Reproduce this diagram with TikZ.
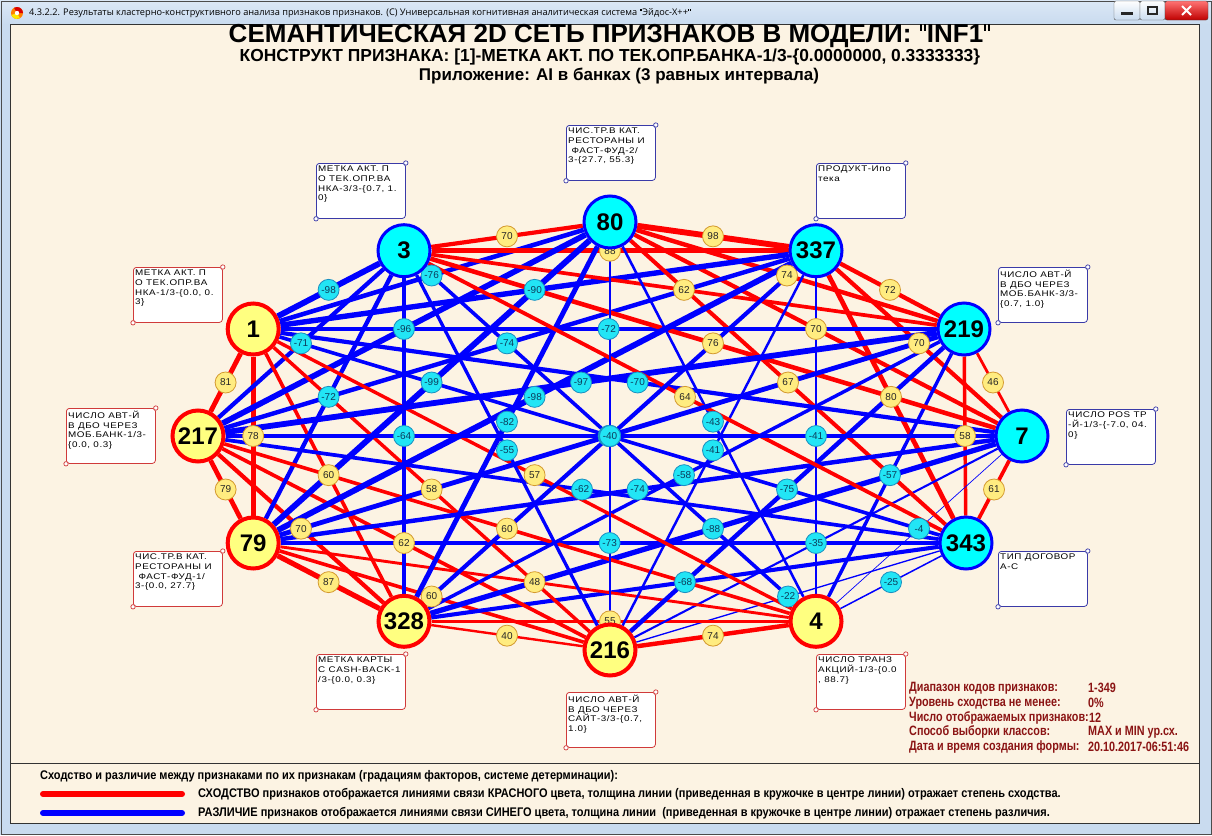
\documentclass[tikz,border=0pt]{standalone}
\usepackage{fontspec}
\setmainfont{Liberation Sans}
\newfontfamily\narrowf[FakeStretch=0.88]{Liberation Sans}
\newfontfamily\infof[FakeStretch=0.8]{Liberation Sans}
\newfontfamily\boxf[FakeStretch=1.2,LetterSpace=7]{Liberation Sans}
\newfontfamily\winf{Open Sans}
\newcommand{\sqt}{\kern0.04em\raisebox{0.45em}{\rule{0.08em}{0.26em}\kern0.07em\rule{0.08em}{0.26em}}\kern0.04em}
\usetikzlibrary{calc}
\pgfdeclarelayer{bg}
\pgfdeclarelayer{edges}
\pgfdeclarelayer{elabels}
\pgfsetlayers{bg,edges,elabels,main}
\definecolor{panelc}{HTML}{FCF3E3}
\definecolor{frameb}{HTML}{C9DBEF}
\definecolor{frameb2}{HTML}{DCE8F6}
\definecolor{infored}{HTML}{8B1414}
\definecolor{ynodec}{HTML}{FFFF80}
\definecolor{cnodec}{HTML}{00FFFF}
\definecolor{ylabf}{HTML}{FFEC80}
\definecolor{ylabd}{HTML}{D49A30}
\definecolor{clabf}{HTML}{22E5F5}
\definecolor{clabd}{HTML}{1A8FC0}
\definecolor{rboxc}{HTML}{D03A3A}
\definecolor{bboxc}{HTML}{3A3AA8}
\definecolor{clabt}{HTML}{0B3D5C}
\tikzset{
  yn/.style={circle,fill=ynodec,draw=red,line width=4pt,minimum size=51pt,inner sep=0pt,font=\bfseries\fontsize{24}{24}\selectfont},
  cn/.style={circle,fill=cnodec,draw=blue,line width=3pt,minimum size=52pt,inner sep=0pt,font=\bfseries\fontsize{24}{24}\selectfont},
  boxr/.style={rectangle,rounded corners=3pt,fill=white,draw=rboxc,line width=0.8pt,minimum width=89pt,minimum height=55pt,anchor=north west,inner sep=0pt},
  boxb/.style={boxr,draw=bboxc},
  btxt/.style={anchor=north west,align=left,inner sep=0pt,font=\boxf\fontsize{8.2}{9.6}\selectfont},
  elab/.style={circle,minimum size=21pt,inner sep=0pt,line width=0.8pt,font=\fontsize{10}{10}\selectfont},
  infot/.style={anchor=west,inner sep=0pt,text=infored,font=\infof\bfseries\fontsize{13.5}{14}\selectfont},
  legt/.style={anchor=west,inner sep=0pt,font=\narrowf\bfseries\fontsize{12.5}{13}\selectfont},
  ttl/.style={inner sep=0pt}
}
\begin{document}
\begin{tikzpicture}[x=1pt,y=-1pt]
\useasboundingbox (0,0) rectangle (1212,835);
\begin{pgfonlayer}{bg}
  \fill[frameb] (0,0) rectangle (1212,835);
  \shade[top color=frameb2,bottom color=frameb] (0,0) rectangle (1212,24);
  \draw[gray!60!black,line width=0.8pt] (1,1) rectangle (1211,834);
  \fill[panelc] (10,24) rectangle (1199,823);
  \draw[gray!40!black,line width=0.8pt] (10,24) rectangle (1199,823);
  \draw[gray!40!black,line width=0.8pt] (10,763) -- (1199,763);
  % title bar icon
  \fill[orange] (17,13) circle (6pt);
  \fill[red!85!black] (17,13) -- ++(0:6pt) arc (0:120:6pt) -- cycle;
  \fill[yellow!90!orange] (17,13) -- ++(200:6pt) arc (200:300:6pt) -- cycle;
  \fill[white] (17,13) circle (2.2pt);
  % window buttons
  \shade[top color=white,bottom color=frameb,draw=gray!70!black,rounded corners=2pt] (1114,1) rectangle (1140,20);
  \shade[top color=white,bottom color=frameb,draw=gray!70!black,rounded corners=2pt] (1140,1) rectangle (1165,20);
  \shade[top color=red!55!white,bottom color=red!75!black,draw=gray!50!black,rounded corners=2pt] (1165,1) rectangle (1208,20);
  \fill[gray!30!black] (1121,12) rectangle (1133,14.5);
  \draw[gray!30!black,line width=1.2pt] (1148,7) rectangle (1157,14);
  \draw[white,line width=2pt] (1182,6) -- (1191,15) (1191,6) -- (1182,15);
\end{pgfonlayer}

\node[anchor=west,inner sep=0pt,font=\winf\fontsize{9.2}{10}\selectfont] (wintitle) at (29,13) {4.3.2.2. Результаты кластерно-конструктивного анализа признаков признаков. (C) Универсальная когнитивная аналитическая система \sqt Эйдос-X++\sqt};

\node[ttl,font=\bfseries\fontsize{26}{27}\selectfont] (title) at (610,36) {СЕМАНТИЧЕСКАЯ 2D СЕТЬ ПРИЗНАКОВ В МОДЕЛИ: \sqt INF1\sqt};
\node[ttl,font=\bfseries\fontsize{17.4}{18}\selectfont] (subtitle) at (610,57.5) {КОНСТРУКТ ПРИЗНАКА: [1]-МЕТКА АКТ. ПО ТЕК.ОПР.БАНКА-1/3-\{0.0000000, 0.3333333\}};
\node[ttl,font=\bfseries\fontsize{17}{18}\selectfont] (appl) at (619,76.5) {Приложение: AI в банках (3 равных интервала)};

% feature nodes
\node[cn] (n80) at (610,222) {80};
\node[cn] (n337) at (816,250.7) {337};
\node[cn] (n219) at (964,329) {219};
\node[cn] (n7) at (1022,436) {7};
\node[cn] (n343) at (966,543) {343};
\node[yn] (n4) at (816,621.3) {4};
\node[yn] (n216) at (610,650) {216};
\node[yn] (n328) at (404,621.3) {328};
\node[yn] (n79) at (253.2,543) {79};
\node[yn] (n217) at (198,436) {217};
\node[yn] (n1) at (253.2,329) {1};
\node[cn] (n3) at (404,250.7) {3};

\foreach \a/\b/\v in {
 n80/n337/98, n337/n219/72, n219/n7/46, n7/n343/61, n343/n4/-25, n4/n216/74,
 n216/n328/40, n328/n79/87, n79/n217/79, n217/n1/81, n1/n3/-98, n3/n80/70,
 n80/n219/74, n337/n7/70, n219/n343/58, n7/n4/-4, n343/n216/-22, n4/n328/55,
 n216/n79/60, n328/n217/70, n79/n1/78, n217/n3/-71, n1/n80/-76, n3/n337/88,
 n80/n7/70, n337/n343/80, n219/n4/-57, n7/n216/-35, n343/n328/-68, n4/n79/48,
 n216/n217/62, n328/n1/60, n79/n3/-72, n217/n80/-96, n1/n337/-90, n3/n219/62,
 n80/n343/67, n337/n4/-41, n219/n216/-75, n7/n328/-88, n343/n79/-73, n4/n217/60,
 n216/n1/58, n328/n3/-64, n79/n80/-99, n217/n337/-74, n1/n219/-72, n3/n7/76,
 n80/n4/-43, n337/n216/-41, n219/n328/-58, n7/n79/-74, n343/n217/-62, n4/n1/57,
 n216/n3/-55, n328/n80/-82, n79/n337/-98, n217/n219/-97, n1/n7/-70, n3/n343/64,
 n337/n328/-70, n219/n79/-80, n7/n217/-70, n343/n1/-60, n4/n3/-60, n80/n216/-40}{
  \pgfmathsetmacro\w{max(0.7,abs(\v)*0.06)}
  \ifdim\v pt>0pt
    \def\ec{red}\def\lf{ylabf}\def\ld{ylabd}\def\lt{black!85}
  \else
    \def\ec{blue}\def\lf{clabf}\def\ld{clabd}\def\lt{clabt}
  \fi
  \begin{pgfonlayer}{edges}
    \draw[draw=\ec,line width=\w pt] (\a) -- (\b);
  \end{pgfonlayer}
  \begin{pgfonlayer}{elabels}
    \node[elab,fill=\lf,draw=\ld,text=\lt] (l\a\b) at ($(\a)!0.5!(\b)$) {\v};
  \end{pgfonlayer}
}

% label boxes
\node[boxb] (b80) at (566,125) {};
\node[btxt] (t80) at ([xshift=2pt,yshift=-3pt]b80.north west) {ЧИС.ТР.В КАТ.\\РЕСТОРАНЫ И\\~ФАСТ-ФУД-2/\\3-\{27.7, 55.3\}};
\node[boxb] (b3) at (316,163) {};
\node[btxt] (t3) at ([xshift=2pt,yshift=-3pt]b3.north west) {МЕТКА АКТ. П\\О ТЕК.ОПР.ВА\\НКА-3/3-\{0.7, 1.\\0\}};
\node[boxb] (b337) at (816,163) {};
\node[btxt] (t337) at ([xshift=2pt,yshift=-3pt]b337.north west) {ПРОДУКТ-Ипо\\тека};
\node[boxb] (b219) at (998,267) {};
\node[btxt] (t219) at ([xshift=2pt,yshift=-3pt]b219.north west) {ЧИСЛО АВТ-Й\\В ДБО ЧЕРЕЗ\\МОБ.БАНК-3/3-\\\{0.7, 1.0\}};
\node[boxb] (b7) at (1066,409) {};
\node[btxt] (t7) at ([xshift=2pt,yshift=-3pt]b7.north west) {ЧИСЛО POS ТР\\-Й-1/3-\{-7.0, 04.\\0\}};
\node[boxb] (b343) at (998,551) {};
\node[btxt] (t343) at ([xshift=2pt,yshift=-3pt]b343.north west) {ТИП ДОГОВОР\\А-С};
\node[boxr] (b4) at (816,654) {};
\node[btxt] (t4) at ([xshift=2pt,yshift=-3pt]b4.north west) {ЧИСЛО ТРАНЗ\\АКЦИЙ-1/3-\{0.0\\, 88.7\}};
\node[boxr] (b216) at (566,692) {};
\node[btxt] (t216) at ([xshift=2pt,yshift=-3pt]b216.north west) {ЧИСЛО АВТ-Й\\В ДБО ЧЕРЕЗ\\САЙТ-3/3-\{0.7,\\1.0\}};
\node[boxr] (b328) at (316,654) {};
\node[btxt] (t328) at ([xshift=2pt,yshift=-3pt]b328.north west) {МЕТКА КАРТЫ\\С CASH-BACK-1\\/3-\{0.0, 0.3\}};
\node[boxr] (b79) at (133,551) {};
\node[btxt] (t79) at ([xshift=2pt,yshift=-3pt]b79.north west) {ЧИС.ТР.В КАТ.\\РЕСТОРАНЫ И\\~ФАСТ-ФУД-1/\\3-\{0.0, 27.7\}};
\node[boxr] (b217) at (66,408) {};
\node[btxt] (t217) at ([xshift=2pt,yshift=-3pt]b217.north west) {ЧИСЛО АВТ-Й\\В ДБО ЧЕРЕЗ\\МОБ.БАНК-1/3-\\\{0.0, 0.3\}};
\node[boxr] (b1) at (133,267) {};
\node[btxt] (t1) at ([xshift=2pt,yshift=-3pt]b1.north west) {МЕТКА АКТ. П\\О ТЕК.ОПР.ВА\\НКА-1/3-\{0.0, 0.\\3\}};

\foreach \b/\c in {b80/bboxc,b3/bboxc,b337/bboxc,b219/bboxc,b7/bboxc,b343/bboxc,b4/rboxc,b216/rboxc,b328/rboxc,b79/rboxc,b217/rboxc,b1/rboxc}{
  \draw[draw=\c,fill=white,line width=0.7pt] (\b.north east) circle (2.2pt);
  \draw[draw=\c,fill=white,line width=0.7pt] (\b.south west) circle (2.2pt);
}

% info block
\node[infot] (i1) at (909,688) {Диапазон кодов признаков:};
\node[infot] (v1) at (1088,688) {1-349};
\node[infot] (i2) at (909,703) {Уровень сходства не менее:};
\node[infot] (v2) at (1088,703) {0\%};
\node[infot] (i3) at (909,718) {Число отображаемых признаков:};
\node[infot] (v3) at (1089,718) {12};
\node[infot] (i4) at (909,732) {Способ выборки классов:};
\node[infot] (v4) at (1088,732) {MAX и MIN ур.сх.};
\node[infot] (i5) at (909,747) {Дата и время создания формы:};
\node[infot] (v5) at (1088,747) {20.10.2017-06:51:46};

% legend
\node[legt] (lg0) at (40,776) {Сходство и различие между признаками по их признакам (градациям факторов, системе детерминации):};
\coordinate (lr1) at (43,794); \coordinate (lr2) at (182,794);
\coordinate (lb1) at (43,813); \coordinate (lb2) at (182,813);
\draw[red,line width=6pt,line cap=round] (lr1) -- (lr2);
\draw[blue,line width=6pt,line cap=round] (lb1) -- (lb2);
\node[legt] (lg1) at (198,794) {СХОДСТВО признаков отображается линиями связи КРАСНОГО цвета, толщина линии (приведенная в кружочке в центре линии) отражает степень сходства.};
\node[legt] (lg2) at (198,813) {РАЗЛИЧИЕ признаков отображается линиями связи СИНЕГО цвета, толщина линии ~(приведенная в кружочке в центре линии) отражает степень различия.};
\end{tikzpicture}
\end{document}
